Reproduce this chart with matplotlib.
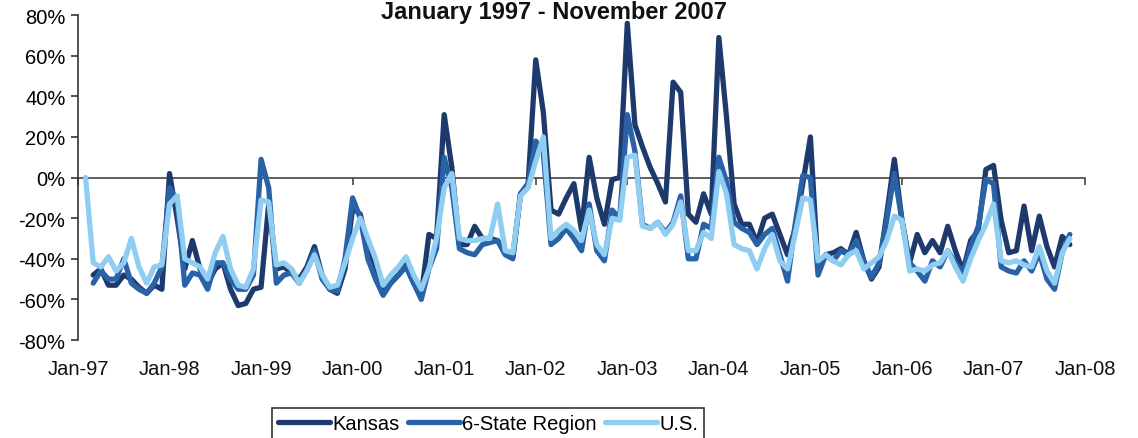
import numpy as np
import matplotlib
matplotlib.use('Agg')
import matplotlib.pyplot as plt
from matplotlib.ticker import FuncFormatter

plt.rcParams['font.family'] = ['Liberation Sans', 'DejaVu Sans']

nan = np.nan

# monthly year-over-year change (%), Jan-97 .. Nov-07, one row per year
kansas = [
    nan, nan, -48, -45, -53, -53, -48, -50, -54, -57, -53, -55,
    2, -20, -45, -31, -45, -52, -45, -42, -55, -63, -62, -55,
    -54, -13, -45, -44, -47, -50, -44, -34, -48, -55, -57, -45,
    -15, -18, -35, -45, -55, -52, -48, -43, -52, -58, -28, -30,
    31, 5, -33, -33, -24, -30, -30, -31, -37, -39, -8, -3,
    58, 32, -16, -18, -10, -3, -26, 10, -10, -23, -1, 0,
    76, 26, 15, 5, -3, -12, 47, 42, -18, -22, -8, -18,
    69, 30, -13, -23, -23, -32, -20, -18, -28, -38, -25, -3,
    20, -45, -38, -37, -35, -38, -27, -41, -50, -44, -18, 9,
    -21, -42, -28, -37, -31, -37, -24, -36, -46, -31, -26, 4,
    6, -21, -37, -36, -14, -36, -19, -34, -44, -29, -33,
]
region = [
    nan, nan, -52, -46, -50, -50, -40, -52, -55, -57, -52, -44,
    -5, -12, -53, -47, -48, -55, -42, -42, -50, -55, -55, -48,
    9, -5, -52, -48, -47, -52, -45, -36, -50, -55, -56, -40,
    -10, -20, -40, -50, -58, -52, -48, -44, -52, -60, -45, -35,
    10, -5, -35, -37, -38, -33, -32, -31, -38, -40, -8, -3,
    18, 12, -33, -30, -25, -30, -36, -13, -36, -41, -16, -20,
    31, 13, -23, -25, -22, -27, -22, -9, -40, -40, -23, -25,
    10, -2, -22, -25, -27, -33, -28, -25, -38, -51, -23, 1,
    0, -48, -38, -41, -36, -38, -31, -41, -49, -42, -21, 2,
    -21, -42, -46, -51, -41, -44, -36, -42, -47, -34, -24, -1,
    -3, -44, -46, -47, -41, -46, -37, -50, -55, -37, -28,
]
us = [
    nan, 0, -42, -44, -39, -46, -42, -30, -44, -52, -44, -43,
    -13, -9, -40, -42, -44, -50, -37, -29, -45, -53, -54, -45,
    -11, -12, -43, -42, -45, -52, -46, -38, -48, -54, -53, -42,
    -30, -20, -30, -40, -53, -48, -44, -39, -48, -55, -45, -30,
    -5, 2, -30, -31, -31, -30, -30, -13, -36, -37, -9, -5,
    8, 20, -30, -26, -23, -26, -31, -16, -33, -38, -20, -21,
    10, 11, -24, -25, -22, -28, -23, -12, -36, -36, -27, -30,
    3, -8, -33, -35, -36, -45, -35, -28, -41, -45, -28, -10,
    -11, -41, -38, -41, -43, -38, -36, -45, -42, -39, -31, -19,
    -21, -46, -45, -46, -43, -42, -36, -44, -51, -40, -31, -23,
    -13, -41, -42, -41, -43, -44, -34, -46, -52, -37, -30,
]
series_names = ['Kansas', '6-State Region', 'U.S.']
year_labels = ['Jan-97', 'Jan-98', 'Jan-99', 'Jan-00', 'Jan-01', 'Jan-02',
               'Jan-03', 'Jan-04', 'Jan-05', 'Jan-06', 'Jan-07', 'Jan-08']
y_ticks = [-80, -60, -40, -20, 0, 20, 40, 60, 80]

colors = ['#1e3a6c', '#2a62a8', '#8fcdf1']

months = np.arange(len(us))
year_ticks = np.arange(len(year_labels)) * 12

fig = plt.figure(figsize=(11.38, 4.39), dpi=100)
ax = fig.add_axes([0.0685, 0.2232, 0.885, 0.740])

for vals, name, c in zip([kansas, region, us], series_names, colors):
    ax.plot(months, vals, color=c, lw=3.8, label=name,
            solid_joinstyle='round', solid_capstyle='round')

ax.set_xlim(0, year_ticks[-1])
ax.set_ylim(-80, 80)
ax.set_yticks(y_ticks)
ax.yaxis.set_major_formatter(FuncFormatter(lambda v, p: f'{v:.0f}%'))
ax.tick_params(axis='y', labelsize=14.5, direction='out', length=5,
               width=1.2, color='#333333', pad=4)

ax.spines['top'].set_visible(False)
ax.spines['right'].set_visible(False)
ax.spines['left'].set_color('#333333')
ax.spines['left'].set_linewidth(1.2)
ax.spines['bottom'].set_position(('data', 0))
ax.spines['bottom'].set_color('#444444')
ax.spines['bottom'].set_linewidth(1.2)
ax.spines['bottom'].set_zorder(0.5)

ax.set_xticks(year_ticks)
ax.tick_params(axis='x', labelbottom=False, direction='out', length=5,
               width=1.2, color='#444444')
for x, lab in zip(year_ticks, year_labels):
    ax.text(x, -0.089, lab, transform=ax.get_xaxis_transform(),
            ha='center', va='center', fontsize=14.5, color='#111111')

# title sits right at the top edge, as in the scanned original
fig.text(0.487, 0.957, 'January 1997 - November 2007', ha='center',
         va='baseline', fontsize=17, fontweight='bold', color='#111111')

leg = fig.legend(loc='upper left', bbox_to_anchor=(0.239, 0.068), ncol=3,
                 frameon=True, fancybox=False, edgecolor='black',
                 fontsize=14.5, handlelength=2.6, handletextpad=0.1,
                 columnspacing=0.4, borderpad=0.3, borderaxespad=0)
leg.get_frame().set_linewidth(1.2)

fig.savefig('out.png', dpi=100)
